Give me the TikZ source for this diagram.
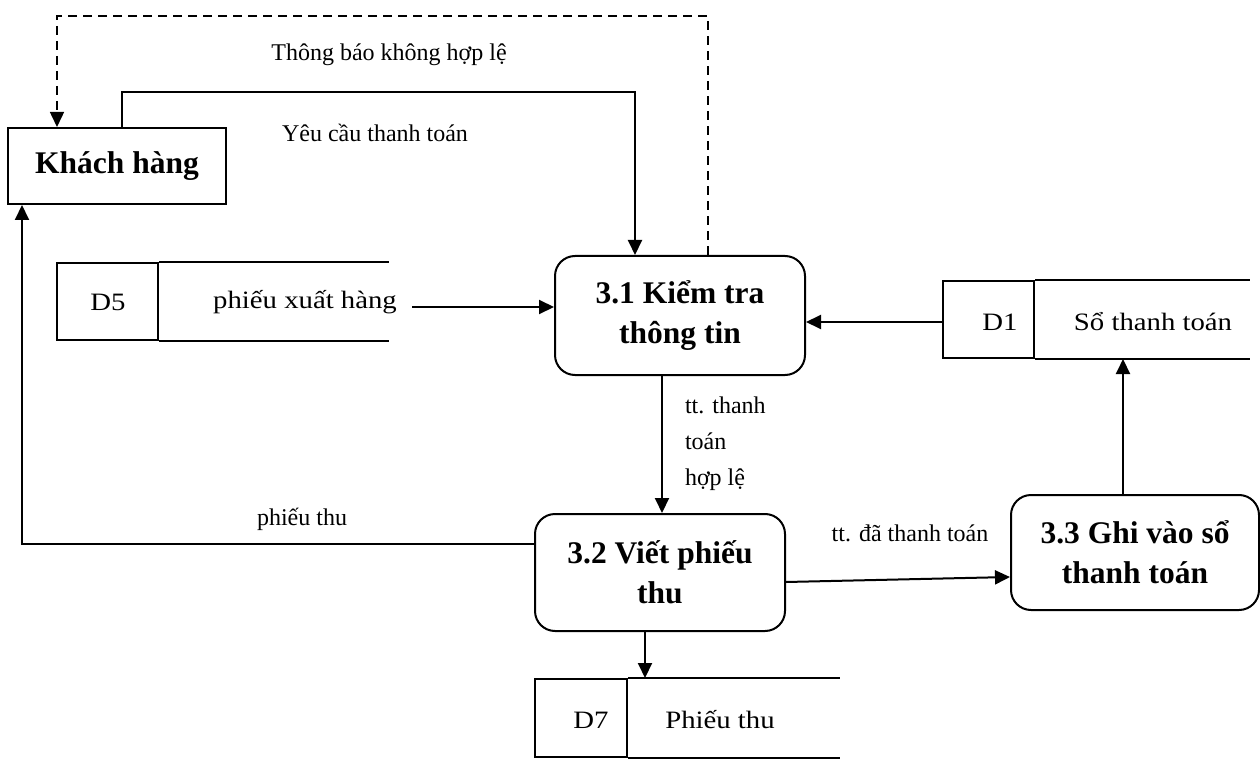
\documentclass[tikz,border=0pt]{standalone}
\usepackage{fontspec}
\setmainfont{Liberation Serif}
\newfontfamily\storefont{Liberation Serif}[FakeStretch=1.15]
\usetikzlibrary{arrows.meta}
\begin{document}
\begin{tikzpicture}[x=1pt,y=-1pt,
  line width=2pt,
  flow/.style={-{Triangle[length=15pt,width=14pt]}},
  dashflow/.style={flow, line width=1.5pt, dash pattern=on 9pt off 6pt},
  lbl/.style={font=\fontsize{24}{28}\selectfont, inner sep=0pt},
  stxt/.style={font=\storefont\fontsize{25}{28}\selectfont, inner sep=0pt},
  proc/.style={draw, rounded corners=20pt, align=center, font=\fontsize{31.5}{40}\selectfont\bfseries, inner sep=0pt},
  ent/.style={draw, align=center, font=\fontsize{31.5}{40}\selectfont\bfseries, inner sep=0pt},
  cell/.style={draw, inner sep=0pt},
]
\useasboundingbox (0,0) rectangle (1260,759);

% entities and processes
\node[ent, minimum width=218pt, minimum height=76pt] (kh) at (117,166) {Khách hàng};
\node[proc, minimum width=250pt, minimum height=119pt] (p31) at (680,315.5) {3.1 Kiểm tra\\thông tin};
\node[proc, minimum width=250pt, minimum height=117pt] (p32) at (660,572.5) {3.2 Viết phiếu\\thu};
\node[proc, minimum width=248pt, minimum height=115pt] (p33) at (1135,552.5) {3.3 Ghi vào sổ\\thanh toán};

% data stores
\node[cell, minimum width=101pt, minimum height=77pt] (d5) at (107.5,301.5) {};
\node[stxt] (d5id) at (108,302) {D5};
\node[stxt] (d5t) at (305,302) {phiếu xuất hàng};
\coordinate (d5e) at (389,0);
\draw (d5.north east) -- (d5.north east -| d5e);
\draw (d5.south east) -- (d5.south east -| d5e);

\node[cell, minimum width=91pt, minimum height=77pt] (d1) at (988.5,319.5) {};
\node[stxt] (d1id) at (1000,322) {D1};
\node[stxt] (d1t) at (1153,322) {Sổ thanh toán};
\coordinate (d1e) at (1250,0);
\draw (d1.north east) -- (d1.north east -| d1e);
\draw (d1.south east) -- (d1.south east -| d1e);

\node[cell, minimum width=92pt, minimum height=78pt] (d7) at (581,718) {};
\node[stxt] (d7id) at (591,720) {D7};
\node[stxt] (d7t) at (720,720) {Phiếu thu};
\coordinate (d7e) at (840,0);
\draw (d7.north east) -- (d7.north east -| d7e);
\draw (d7.south east) -- (d7.south east -| d7e);

% flows
\coordinate (c1) at (122,92);
\coordinate (c2) at (635,92);
\draw[flow] (kh.north -| c1) |- (c2) -- (p31.north -| c2);

\coordinate (c3) at (708,16);
\coordinate (c4) at (57,16);
\draw[dashflow] (p31.north -| c3) -- (c3) -- (c4) -- (kh.north -| c4);

\coordinate (c5) at (412,307);
\draw[flow] (c5) -- (p31.west |- c5);

\coordinate (c6) at (0,322);
\draw[flow] (d1.west |- c6) -- (p31.east |- c6);

\coordinate (c7) at (1123,0);
\draw[flow] (p33.north -| c7) -- (d1.south -| c7);

\coordinate (c8) at (662,0);
\draw[flow] (p31.south -| c8) -- (p32.north -| c8);

\coordinate (c9) at (22,544);
\draw[flow] (p32.west |- c9) -- (c9) -- (kh.south -| c9);

\draw[flow] ([yshift=-9.5pt]p32.east) -- ([yshift=-24.5pt]p33.west);

\coordinate (c10) at (645,0);
\draw[flow] (p32.south -| c10) -- (d7.north -| c10);

% labels
\node[lbl] (l1) at (389,55) {Thông báo không hợp lệ};
\node[lbl] (l2) at (375,133) {Yêu cầu thanh toán};
\node[lbl] (l3) at (302,519) {phiếu thu};
\node[lbl] (l4) at (910,533) {tt. đã thanh toán};
\node[lbl, align=left, anchor=north west, font=\fontsize{24}{36}\selectfont] (l5) at (684,396) {tt. thanh\\toán\\hợp lệ};
\end{tikzpicture}
\end{document}
